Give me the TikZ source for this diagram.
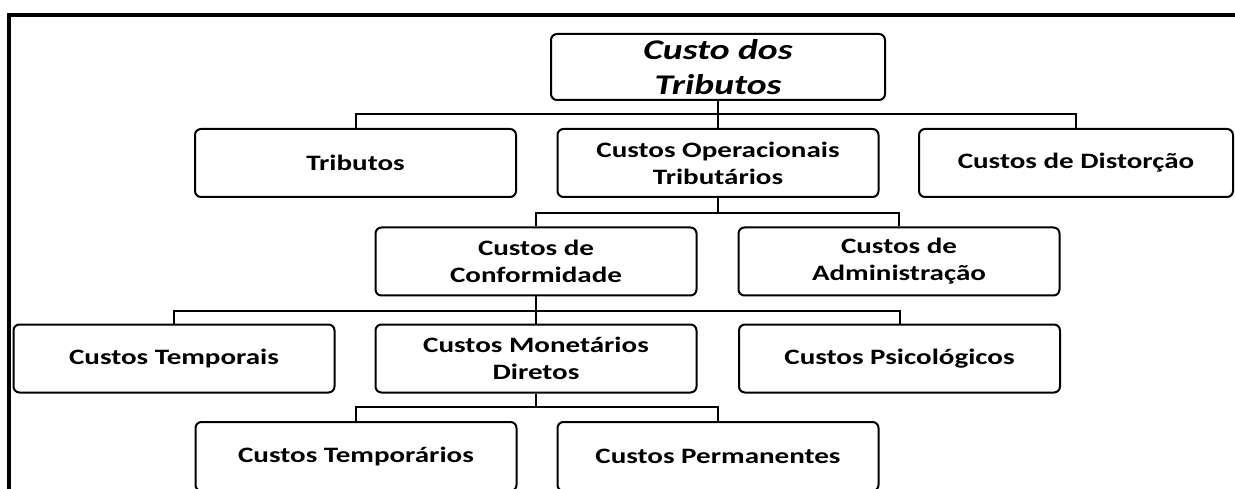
\documentclass[tikz,border=0pt]{standalone}
\usepackage{fontspec}
\setmainfont{Carlito}[FakeStretch=1.32]

\begin{document}
\begin{tikzpicture}[x=1pt, y=-1pt,
  box/.style={draw, line width=2pt, rounded corners=6pt, inner sep=0pt,
    minimum width=321pt, minimum height=68pt, align=center,
    font=\fontsize{22}{27}\selectfont\bfseries},
  link/.style={line width=2pt},
  frame/.style={line width=3.5pt}]
\useasboundingbox (0,0) rectangle (1235,489);
\clip (0,0) rectangle (1235,489);
\draw[frame] (9,520) -- (9,15) -- (1260,15);

\node[box, minimum width=334pt, minimum height=66pt,
  font=\fontsize{28.5}{35}\selectfont\bfseries\itshape] (custo) at (718,67) {Custo dos\\Tributos};
\node[box] (trib) at (355.5,163) {Tributos};
\node[box] (cot) at (718,163) {Custos Operacionais\\Tributários};
\node[box, minimum width=314pt] (dist) at (1076,163) {Custos de Distorção};
\node[box] (conf) at (536,261.5) {Custos de\\Conformidade};
\node[box] (adm) at (899,261.5) {Custos de\\Administração};
\node[box] (temp) at (174,358.5) {Custos Temporais};
\node[box] (mon) at (536,358.5) {Custos Monetários\\Diretos};
\node[box] (psi) at (899.5,358.5) {Custos Psicológicos};
\node[box, minimum height=69pt] (tpr) at (356,456.5) {Custos Temporários};
\node[box, minimum height=69pt] (perm) at (718,456.5) {Custos Permanentes};

% barramentos
\coordinate (bus1) at (718,114);
\coordinate (bus2) at (718,213);
\coordinate (bus3) at (536,311);
\coordinate (bus4) at (536,407);

\draw[link] (custo) -- (cot);
\draw[link] (trib.north) |- (bus1) -| (dist.north);
\draw[link] (cot.south) -- (bus2);
\draw[link] (conf.north) |- (bus2) -| (adm.north);
\draw[link] (conf) -- (mon);
\draw[link] (temp.north) |- (bus3) -| (psi.north);
\draw[link] (mon.south) -- (bus4);
\draw[link] (tpr.north) |- (bus4) -| (perm.north);
\end{tikzpicture}
\end{document}
